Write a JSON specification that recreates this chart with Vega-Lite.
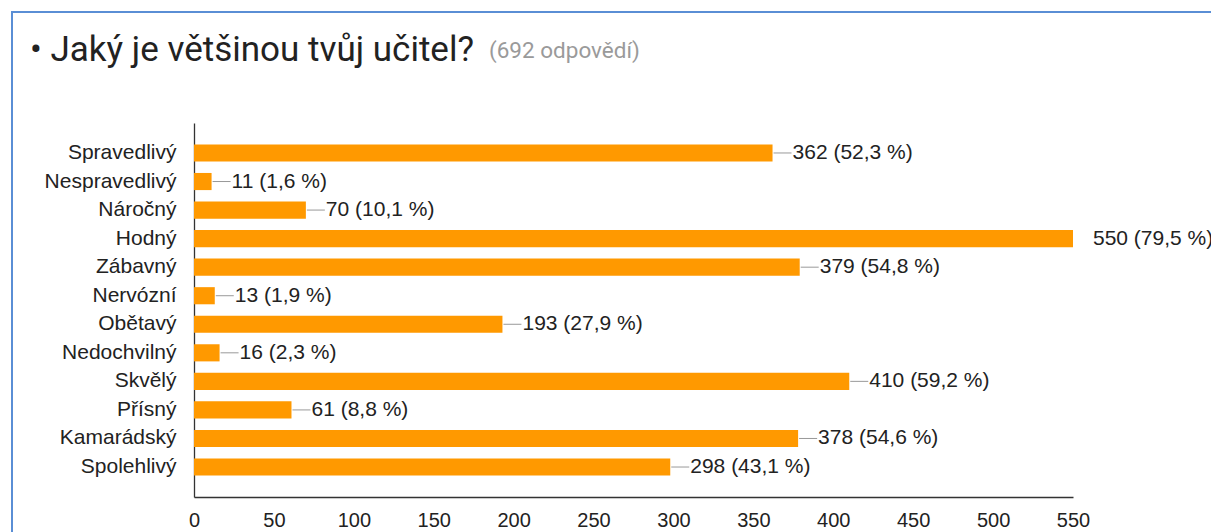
{
  "$schema": "https://vega.github.io/schema/vega-lite/v6.json",
  "autosize": "none",
  "padding": {"left": 12, "top": 12, "right": 0, "bottom": 0},
  "width": 1199,
  "height": 520,
  "background": "#ffffff",
  "title": {
    "text": "• Jaký je většinou tvůj učitel?",
    "subtitle": "\u200b\u2003\u2003\u2003\u2003\u2003\u2003\u2003\u2003\u2003\u2003\u2003\u2003\u2003\u2003\u2003\u2003\u2003\u2003\u2003\u2003(692 odpovědí)",
    "anchor": "start",
    "frame": "group",
    "orient": "top",
    "offset": -56,
    "dx": 18,
    "font": "Roboto",
    "fontSize": 35,
    "fontWeight": "normal",
    "color": "#222222",
    "subtitleFont": "Roboto",
    "subtitleFontSize": 22.5,
    "subtitleColor": "#9a9a9a",
    "subtitlePadding": -28
  },
  "config": {
    "view": {"stroke": "#5a8ed5", "strokeWidth": 2, "strokeDash": [1199, 1719, 520]},
    "axis": {
      "labelFont": "Liberation Sans",
      "labelFontSize": 20,
      "labelColor": "#222222",
      "domainColor": "#333333",
      "domainWidth": 1.3,
      "ticks": false,
      "tickSize": 0,
      "grid": false,
      "title": null
    }
  },
  "data": {
    "values": [
      {"answer": "Spravedlivý", "count": 362, "label": "362 (52,3 %)"},
      {"answer": "Nespravedlivý", "count": 11, "label": "11 (1,6 %)"},
      {"answer": "Náročný", "count": 70, "label": "70 (10,1 %)"},
      {"answer": "Hodný", "count": 550, "label": "550 (79,5 %)"},
      {"answer": "Zábavný", "count": 379, "label": "379 (54,8 %)"},
      {"answer": "Nervózní", "count": 13, "label": "13 (1,9 %)"},
      {"answer": "Obětavý", "count": 193, "label": "193 (27,9 %)"},
      {"answer": "Nedochvilný", "count": 16, "label": "16 (2,3 %)"},
      {"answer": "Skvělý", "count": 410, "label": "410 (59,2 %)"},
      {"answer": "Přísný", "count": 61, "label": "61 (8,8 %)"},
      {"answer": "Kamarádský", "count": 378, "label": "378 (54,6 %)"},
      {"answer": "Spolehlivý", "count": 298, "label": "298 (43,1 %)"}
    ]
  },
  "encoding": {
    "y": {
      "field": "answer",
      "type": "nominal",
      "sort": null,
      "scale": {"range": [111, 485], "paddingInner": 0.4, "paddingOuter": 0.75},
      "axis": {"orient": "left", "offset": -182, "labelPadding": 18, "labelBaseline": "middle", "labelFontSize": 21}
    },
    "x": {
      "field": "count",
      "type": "quantitative",
      "scale": {"domain": [0, 550], "range": [182, 1061], "nice": false},
      "axis": {"orient": "bottom", "offset": -35, "values": [0, 50, 100, 150, 200, 250, 300, 350, 400, 450, 500, 550], "labelPadding": 13, "labelFlush": false, "labelOverlap": false}
    }
  },
  "layer": [
    {"mark": {"type": "bar", "color": "#ff9900"}},
    {
      "transform": [{"filter": "datum.count < 550"}],
      "mark": {"type": "rule", "color": "#999999", "strokeWidth": 1, "xOffset": 1, "x2Offset": 19},
      "encoding": {"x2": {"field": "count"}}
    },
    {
      "mark": {"type": "text", "align": "left", "baseline": "middle", "dx": 20, "font": "Liberation Sans", "fontSize": 21, "color": "#222222"},
      "encoding": {"text": {"field": "label"}}
    }
  ]
}
